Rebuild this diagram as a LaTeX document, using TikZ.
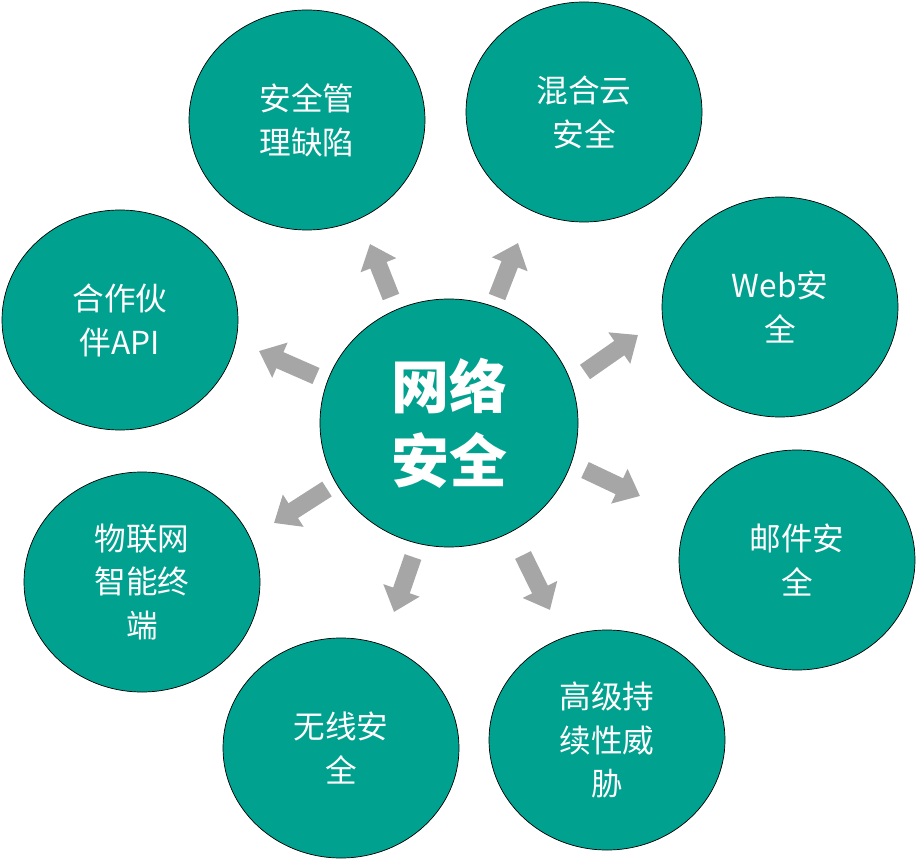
\documentclass[tikz,border=0pt]{standalone}
\usepackage{fontspec}
\newfontfamily\cjk{Noto Sans CJK SC}
\usetikzlibrary{arrows.meta,shapes.geometric}
\definecolor{teal1}{RGB}{0,161,143}
\definecolor{arrowgray}{RGB}{166,166,166}
\newlength{\pxu}\setlength{\pxu}{0.02cm}
\tikzset{
  topic/.style={ellipse,draw=black,fill=teal1,minimum width=236\pxu,minimum height=220\pxu,
    text=white,align=center,font=\cjk\fontsize{18}{25}\selectfont},
  hub/.style={topic,minimum width=258\pxu,minimum height=248\pxu,font=\cjk\bfseries\fontsize{33}{42}\selectfont},
  blockarrow/.style={draw=arrowgray,line width=10pt,-{Triangle[length=13pt,width=21pt]}}
}
\begin{document}
\begin{tikzpicture}[x=0.02cm,y=-0.02cm]
\useasboundingbox (0,0) rectangle (916,861);
\node[hub] (net) at (449,423) {网络\\安全};
\node[topic] (mgmt) at (307,120) {安全管\\理缺陷};
\node[topic] (cloud) at (584,112) {混合云\\安全};
\node[topic] (web) at (780,307) {Web安\\全};
\node[topic] (mail) at (797,560) {邮件安\\全};
\node[topic] (apt) at (607,740) {高级持\\续性威\\胁};
\node[topic] (wifi) at (341,748) {无线安\\全};
\node[topic] (iot) at (142,582) {物联网\\智能终\\端};
\node[topic] (api) at (120,320) {合作伙\\伴API};
% arrows
\foreach \sx/\sy/\ex/\ey in {391/297/370/244, 497/297/518/243, 585/372/638/335, 585/470/640/496,
  523/555/550/610, 413/557/394/612, 327/489/274/523, 316/376/259/351}
  \draw[blockarrow] (\sx,\sy) -- (\ex,\ey);
\end{tikzpicture}
\end{document}
